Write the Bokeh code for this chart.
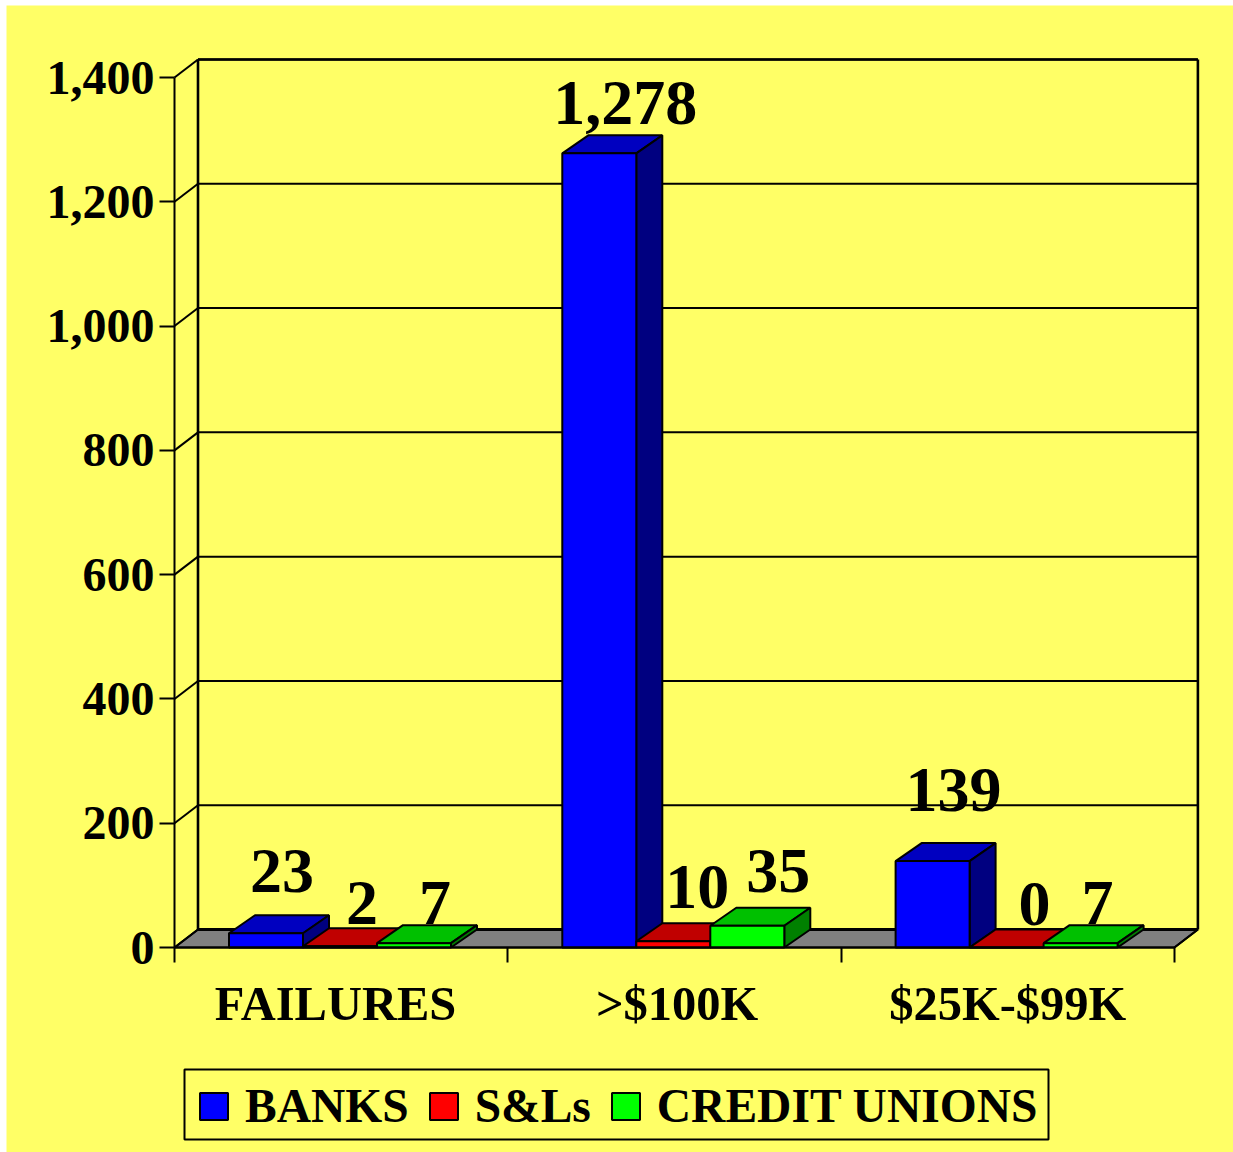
from bokeh.core.properties import value
from bokeh.embed import file_html
from bokeh.models import (AllLabels, BoxAnnotation, ColumnDataSource, FixedTicker, Legend,
                          LegendItem, LinearAxis, NumeralTickFormatter, Range1d)
from bokeh.plotting import figure
from bokeh.resources import INLINE

categories = ["FAILURES", ">$100K", "$25K-$99K"]
series_names = ["BANKS", "S&Ls", "CREDIT UNIONS"]
banks = [23, 1278, 139]
savings_loans = [2, 10, 0]
credit_unions = [7, 35, 7]
y_ticks = [0, 200, 400, 600, 800, 1000, 1200, 1400]

FONT = "Liberation Serif"
YELLOW = "#FFFF66"
PX_X = 333.3         # pixels per category
PX_Y = 870 / 1400    # pixels per value unit
BAR_W = 74 / PX_X
BAR_START = 54.5 / PX_X
BAR_DX, BAR_DY = 26 / PX_X, 18 / PX_Y      # depth of a bar
WALL_DX, WALL_DY = 23.5 / PX_X, 18 / PX_Y  # depth of the floor
FIG_W, FIG_H = 1227, 1147
ORIGIN_X, ORIGIN_Y = 168, 205              # where value 0 of the first category sits

# The plotting area fills the whole figure; axes are pinned at the chart origin inside it
p = figure(width=FIG_W, height=FIG_H, output_backend="svg", toolbar_location=None,
           x_range=Range1d(-ORIGIN_X / PX_X, (FIG_W - ORIGIN_X) / PX_X),
           y_range=Range1d(-ORIGIN_Y / PX_Y, (FIG_H - ORIGIN_Y) / PX_Y),
           min_border=0, background_fill_color=YELLOW, border_fill_color=YELLOW,
           outline_line_color=None, x_axis_type=None, y_axis_type=None,
           margin=(5, 0, 0, 6))

# Floor of the 3D box
n = len(categories)
p.patch([0, n, n + WALL_DX, WALL_DX], [0, 0, WALL_DY, WALL_DY],
        fill_color="#808080", line_color="black", line_width=2)
p.segment([WALL_DX], [WALL_DY], [n + WALL_DX], [WALL_DY], line_color="black", line_width=3)

# Back wall rules, side wall diagonals and box edges
p.segment([WALL_DX] * (len(y_ticks) - 1), [t + WALL_DY for t in y_ticks[1:]],
          [n + WALL_DX] * (len(y_ticks) - 1), [t + WALL_DY for t in y_ticks[1:]],
          line_color="black", line_width=2)
p.segment([0] * len(y_ticks), y_ticks, [WALL_DX] * len(y_ticks), [t + WALL_DY for t in y_ticks],
          line_color="black", line_width=2)
top = y_ticks[-1] + WALL_DY
p.segment([WALL_DX, n + WALL_DX, WALL_DX], [WALL_DY, WALL_DY, top],
          [WALL_DX, n + WALL_DX, n + WALL_DX], [top, top, top],
          line_color="black", line_width=2.6)
p.segment([n], [0], [n + WALL_DX], [WALL_DY], line_color="black", line_width=2)

# Three-sided bars: one front face, one top face, one side face per value
styles = [("#0000FF", "#0000C0", "#000080"),
          ("#FF0000", "#C00000", "#800000"),
          ("#00FF00", "#00C000", "#008000")]
legend_items = []
for s, (vals, name, (front, upper, side)) in enumerate(
        zip([banks, savings_loans, credit_unions], series_names, styles)):
    lefts = [g + BAR_START + s * BAR_W for g in range(n)]
    rights = [x + BAR_W for x in lefts]
    p.patches([[x0, x1, x1 + BAR_DX, x0 + BAR_DX] for x0, x1 in zip(lefts, rights)],
              [[v, v, v + BAR_DY, v + BAR_DY] for v in vals],
              fill_color=upper, line_color="black", line_width=2)
    p.patches([[x1, x1 + BAR_DX, x1 + BAR_DX, x1] for x1 in rights],
              [[0, BAR_DY, v + BAR_DY, v] for v in vals],
              fill_color=side, line_color="black", line_width=2)
    bars = p.quad(left=lefts, right=rights, bottom=0, top=vals,
                  fill_color=front, line_color="black", line_width=2)
    legend_items.append(LegendItem(label=name, renderers=[bars]))

# Value labels sit above and to the right of each bar, nudged clear of each other
label_dx = [16, 22, 21, 26, 24, 31, 21, 28, 17]
label_dy = [62, 43, 40, 50, 54, 55, 71, 44, 40]
label_x, label_y, label_text = [], [], []
for g in range(n):
    for s, vals in enumerate([banks, savings_loans, credit_unions]):
        label_x.append(g + BAR_START + (s + 0.5) * BAR_W)
        label_y.append(vals[g])
        label_text.append(f"{vals[g]:,}")
p.text(x="x", y="y", text="t", x_offset="dx", y_offset="dy",
       source=ColumnDataSource(dict(x=label_x, y=label_y, t=label_text, dx=label_dx,
                                    dy=[-d for d in label_dy])),
       text_font=value(FONT), text_font_style="bold", text_font_size="64px",
       text_align="center", text_baseline="alphabetic", text_color="black")

# Value axis
y_axis = LinearAxis(ticker=FixedTicker(ticks=y_ticks), bounds=(0, 1400), fixed_location=0,
                    formatter=NumeralTickFormatter(format="0,0"),
                    major_label_policy=AllLabels(),
                    major_label_text_font=FONT, major_label_text_font_style="bold",
                    major_label_text_font_size="48px", major_label_text_color="black",
                    major_label_standoff=5, major_tick_in=0, major_tick_out=15,
                    major_tick_line_width=2, minor_tick_line_color=None,
                    axis_line_width=2, axis_line_color="black")
p.add_layout(y_axis, "left")

# Category axis: tick marks on the boundaries, names between them
tick_axis = LinearAxis(ticker=FixedTicker(ticks=list(range(n + 1))), bounds=(0, n), fixed_location=0,
                       major_label_text_font_size="0px", major_label_text_color=None,
                       major_tick_in=0, major_tick_out=15,
                       major_tick_line_width=2, minor_tick_line_color=None,
                       axis_line_width=2, axis_line_color="black")
p.add_layout(tick_axis, "below")

name_ticks = [0.483, 1.508, 2.5]
name_axis = LinearAxis(ticker=FixedTicker(ticks=name_ticks), fixed_location=0,
                       major_label_overrides=dict(zip(name_ticks, categories)),
                       major_label_policy=AllLabels(),
                       major_label_text_font=FONT, major_label_text_font_style="bold",
                       major_label_text_font_size="48.5px", major_label_text_color="black",
                       major_label_standoff=29, major_tick_in=0, major_tick_out=0,
                       major_tick_line_color=None,
                       minor_tick_line_color=None, axis_line_color=None)
p.add_layout(name_axis, "below")

# The legend frame is its own box, shallower than the legend's text metrics allow
legend_box = BoxAnnotation(left=178, right=1042, top=83, bottom=13,
                           left_units="screen", right_units="screen",
                           top_units="screen", bottom_units="screen",
                           fill_color=YELLOW, fill_alpha=1,
                           line_color="black", line_alpha=1, line_width=2)
p.add_layout(legend_box)

legend = Legend(items=legend_items, orientation="horizontal", location=(190, 19),
                glyph_width=35, glyph_height=34, label_standoff=14, spacing=17,
                margin=0, label_height=35,
                label_text_font=FONT, label_text_font_style="bold",
                label_text_font_size="47.5px", label_text_color="black",
                background_fill_alpha=0, border_line_color=None)
p.add_layout(legend, "center")

open("out.html", "w").write(file_html(p, INLINE))
